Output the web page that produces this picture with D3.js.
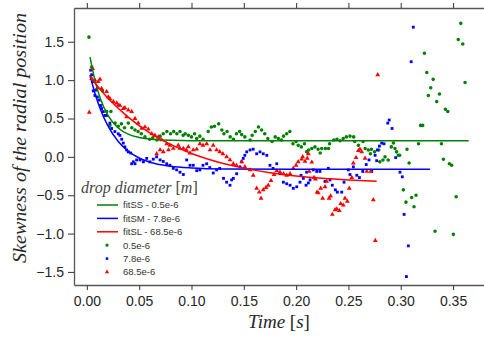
<!DOCTYPE html>
<html>
<head>
<meta charset="utf-8">
<script src="https://cdn.jsdelivr.net/npm/d3@7"></script>
<style>
body { margin: 0; background: #fff; }
svg { display: block; }
</style>
</head>
<body>
<svg width="484" height="340"></svg>
<script>
// tick values
const xTicks = [0.00, 0.05, 0.10, 0.15, 0.20, 0.25, 0.30, 0.35]
const yTicks = [-1.5, -1.0, -0.5, 0.0, 0.5, 1.0, 1.5]

// legend entries
const fitNames = ['fitSS - 0.5e-6', 'fitSM - 7.8e-6', 'fitSL - 68.5e-6']
const dotNames = ['0.5e-6', '7.8e-6', '68.5e-6']
const colors = ['#008000', '#0000ff', '#ff0000']

// fitted curves, [time, skewness]
const fitSS = [[0.003,1.30],[0.008,0.98],[0.013,0.755],[0.020,0.545],[0.030,0.377],[0.040,0.293],
  [0.050,0.252],[0.065,0.225],[0.080,0.215],[0.100,0.211],[0.200,0.21],[0.365,0.21]]
const fitSM = [[0.003,1.065],[0.008,0.816],[0.013,0.618],[0.020,0.406],[0.030,0.199],[0.040,0.068],
  [0.050,-0.015],[0.065,-0.087],[0.080,-0.123],[0.100,-0.145],[0.130,-0.157],[0.200,-0.16],[0.328,-0.16]]
const fitSL = [[0.003,1.04],[0.020,0.766],[0.040,0.511],[0.060,0.314],[0.080,0.162],[0.100,0.043],
  [0.125,-0.067],[0.150,-0.147],[0.175,-0.206],[0.200,-0.248],[0.225,-0.279],[0.250,-0.301],[0.277,-0.318]]

// measured skewness, [time, skewness]
const dataSS = [[0.002,1.56],[0.0046,1.17],[0.015,0.86],[0.019,0.59],[0.022,0.41],[0.023,0.59],[0.027,0.44],
  [0.030,0.40],[0.033,0.43],[0.036,0.38],[0.0396,0.44],[0.043,0.38],[0.046,0.35],[0.049,0.33],[0.052,0.30],
  [0.0555,0.26],[0.060,0.23],[0.063,0.25],[0.067,0.22],[0.070,0.27],[0.073,0.30],[0.0765,0.33],[0.080,0.30],
  [0.083,0.33],[0.086,0.30],[0.089,0.33],[0.092,0.28],[0.094,0.30],[0.097,0.28],[0.100,0.26],[0.103,0.30],
  [0.105,0.24],[0.108,0.27],[0.111,0.23],[0.116,0.33],[0.119,0.39],[0.122,0.40],[0.126,0.43],[0.129,0.35],
  [0.131,0.30],[0.134,0.33],[0.137,0.26],[0.140,0.23],[0.143,0.30],[0.146,0.33],[0.148,0.29],[0.151,0.26],
  [0.156,0.22],[0.158,0.28],[0.161,0.33],[0.164,0.39],[0.167,0.35],[0.170,0.30],[0.173,0.24],[0.177,0.20],
  [0.180,0.26],[0.183,0.24],[0.186,0.22],[0.188,0.27],[0.191,0.30],[0.194,0.33],[0.197,0.17],[0.200,0.20],
  [0.202,0.15],[0.205,0.13],[0.208,0.17],[0.210,0.065],[0.212,0.09],[0.215,0.11],[0.218,0.13],[0.221,0.10],
  [0.223,0.05],[0.2245,0.11],[0.228,0.11],[0.231,0.11],[0.232,0.17],[0.236,0.22],[0.239,0.23],[0.242,0.21],
  [0.245,0.24],[0.248,0.26],[0.2515,0.27],[0.255,0.26],[0.256,0.20],[0.2595,0.15],[0.264,0.20],[0.266,0.11],
  [0.269,0.09],[0.271,0.04],[0.272,0.10],[0.275,0.065],[0.279,0.09],[0.280,-0.065],[0.283,-0.04],[0.285,0.0],
  [0.288,-0.04],[0.291,0.13],[0.293,0.18],[0.2945,0.11],[0.296,0.065],[0.2977,0.02],[0.299,0.02],[0.3025,-0.43],
  [0.305,-0.59],[0.306,0.10],[0.308,-0.08],[0.3105,-0.53],[0.3127,-0.65],[0.3146,-0.50],[0.317,0.17],[0.319,0.41],
  [0.321,0.41],[0.3226,1.35],[0.3249,1.10],[0.3264,0.80],[0.3287,0.90],[0.331,1.01],[0.3328,-0.97],[0.3344,0.72],
  [0.337,0.82],[0.3389,0.17],[0.3408,-0.03],[0.3427,0.62],[0.345,0.59],[0.3465,-0.09],[0.3487,-0.11],[0.3503,-1.01],
  [0.353,-0.52],[0.355,1.53],[0.3574,1.74],[0.3593,1.47],[0.3615,0.97]]

const dataSM = [[0.0036,1.13],[0.0046,1.07],[0.0055,0.98],[0.0061,0.86],[0.0077,0.80],[0.0087,0.87],[0.010,0.78],
  [0.0119,0.74],[0.0132,0.67],[0.0141,0.63],[0.0157,0.59],[0.0173,0.54],[0.0189,0.54],[0.022,0.44],[0.0237,0.37],
  [0.0268,0.33],[0.030,0.30],[0.0316,0.28],[0.0333,0.23],[0.0348,0.18],[0.0364,0.13],[0.038,0.09],[0.0396,0.065],
  [0.0419,0.05],[0.0428,-0.09],[0.0444,-0.065],[0.046,-0.09],[0.0476,-0.04],[0.0508,-0.04],[0.054,-0.065],
  [0.0572,-0.02],[0.0603,-0.065],[0.0635,-0.03],[0.0667,0.0],[0.070,-0.04],[0.073,-0.06],[0.0763,-0.09],
  [0.0794,-0.11],[0.0826,-0.15],[0.0858,-0.17],[0.089,-0.20],[0.0922,-0.23],[0.0954,-0.04],[0.0986,-0.11],
  [0.1017,-0.11],[0.105,-0.18],[0.108,-0.17],[0.111,-0.11],[0.1145,-0.09],[0.1175,-0.14],[0.1208,-0.21],
  [0.124,-0.17],[0.127,-0.15],[0.1306,-0.28],[0.1336,-0.33],[0.1368,-0.37],[0.1384,-0.30],[0.140,-0.28],
  [0.1432,-0.22],[0.1464,-0.13],[0.148,-0.065],[0.1495,-0.02],[0.151,0.02],[0.1528,0.065],[0.156,0.09],
  [0.159,0.10],[0.1623,0.04],[0.1655,0.065],[0.1686,0.04],[0.172,0.02],[0.175,-0.11],[0.178,-0.15],
  [0.1815,-0.09],[0.1846,-0.22],[0.1878,-0.33],[0.191,-0.35],[0.1942,-0.37],[0.1973,-0.41],[0.2006,-0.39],
  [0.2037,-0.33],[0.2047,-0.24],[0.2069,-0.28],[0.2095,-0.37],[0.2101,-0.20],[0.2117,-0.34],[0.2133,-0.30],
  [0.2164,-0.17],[0.2197,-0.19],[0.2228,-0.19],[0.2276,-0.32],[0.2308,-0.15],[0.2324,-0.30],[0.2346,-0.37],
  [0.2375,-0.43],[0.2394,-0.46],[0.2436,-0.46],[0.2458,-0.33],[0.2499,-0.17],[0.2515,-0.23],[0.2547,-0.13],
  [0.258,-0.24],[0.2605,-0.27],[0.2637,-0.19],[0.267,-0.10],[0.2697,-0.04],[0.2723,-0.19],[0.2755,0.02],
  [0.277,-0.05],[0.2776,0.09],[0.2796,0.14],[0.2818,0.18],[0.284,0.17],[0.2876,0.44],[0.289,0.48],[0.2917,0.37],
  [0.2952,-0.01],[0.2993,-0.20],[0.3015,-0.26],[0.3032,-0.75],[0.3054,-1.56],[0.3073,-1.16],[0.310,1.24],[0.312,1.69]]

const dataSL = [[0.0023,0.58],[0.0046,1.02],[0.0055,1.15],[0.0077,1.00],[0.010,0.90],[0.0109,0.98],[0.0125,1.01],
  [0.0141,0.89],[0.0189,0.85],[0.0205,0.78],[0.022,0.76],[0.0253,0.72],[0.0285,0.70],[0.030,0.67],[0.0316,0.67],
  [0.0348,0.63],[0.0364,0.64],[0.038,0.52],[0.0396,0.61],[0.0428,0.59],[0.046,0.50],[0.0491,0.44],[0.0524,0.37],
  [0.0555,0.39],[0.0587,0.36],[0.062,0.30],[0.0651,0.28],[0.0667,0.04],[0.0683,0.26],[0.070,0.09],[0.0715,0.22],
  [0.073,0.065],[0.0763,0.17],[0.078,0.09],[0.0794,0.15],[0.0826,0.11],[0.0874,0.15],[0.089,0.11],[0.0922,0.11],
  [0.095,0.09],[0.097,0.13],[0.0986,0.05],[0.1017,0.09],[0.105,0.10],[0.108,0.17],[0.111,0.15],[0.1145,0.17],
  [0.1177,0.09],[0.1208,0.15],[0.124,0.09],[0.127,0.065],[0.130,0.04],[0.1336,0.0],[0.1368,-0.04],[0.140,-0.09],
  [0.143,-0.11],[0.148,-0.065],[0.151,-0.13],[0.156,-0.17],[0.159,-0.24],[0.1623,-0.41],[0.1648,-0.46],
  [0.1665,-0.54],[0.1686,-0.43],[0.1712,-0.40],[0.1734,-0.37],[0.176,-0.31],[0.1789,-0.23],[0.1815,-0.18],
  [0.1846,-0.20],[0.188,-0.22],[0.191,-0.24],[0.1942,-0.22],[0.1973,-0.15],[0.200,-0.11],[0.202,-0.065],
  [0.2053,-0.03],[0.2063,0.0],[0.2085,-0.06],[0.2107,-0.02],[0.2117,0.04],[0.2126,-0.19],[0.215,-0.07],
  [0.2171,-0.27],[0.2185,-0.29],[0.2200,-0.46],[0.2212,-0.47],[0.2235,-0.41],[0.2254,-0.54],[0.2276,-0.39],
  [0.2292,-0.32],[0.2315,-0.54],[0.233,-0.51],[0.2346,-0.75],[0.2372,-0.69],[0.2388,-0.68],[0.2413,-0.70],
  [0.2426,-0.61],[0.2451,-0.63],[0.2467,-0.54],[0.249,-0.58],[0.2508,-0.41],[0.2532,-0.27],[0.2547,-0.08],
  [0.2573,-0.01],[0.2595,0.08],[0.261,0.10],[0.2627,0.065],[0.2659,-0.02],[0.2675,-0.19],[0.2713,-0.19],
  [0.2738,-0.56],[0.2757,-1.09],[0.278,1.07]]

const svg = d3.select('svg')

const margin = { top: 8, right: -2, bottom: 55, left: 74 }
const width = 484, height = 340
const inner_width = width - margin.left - margin.right
const inner_height = height - margin.top - margin.bottom

const x_scale = d3.scaleLinear().domain([-0.0123, 0.3815]).range([0, inner_width])
const y_scale = d3.scaleLinear().domain([-1.67, 1.94]).range([inner_height, 0])

const g = svg.append('g').attr('transform', `translate(${margin.left},${margin.top})`)

const tickFont = '"Liberation Sans", Arial, sans-serif'
const texColor = '#262626'

// axes
const xAxis = g.append('g').attr('transform', `translate(0,${inner_height})`)
  .call(d3.axisBottom(x_scale).tickValues(xTicks).tickFormat(d3.format('.2f')).tickSize(5).tickPadding(6).tickSizeOuter(0))
const topAxis = g.append('g')
  .call(d3.axisTop(x_scale).tickValues(xTicks).tickFormat('').tickSize(5).tickSizeOuter(0))
const yAxis = g.append('g')
  .call(d3.axisLeft(y_scale).tickValues(yTicks).tickFormat(d3.format('.1f')).tickSize(6).tickPadding(4).tickSizeOuter(0))

;[xAxis, topAxis, yAxis].forEach(a => {
  a.select('.domain').attr('stroke', '#555').attr('stroke-width', 1.3)
  a.selectAll('.tick line').attr('stroke', '#444').attr('stroke-width', 1.1)
  a.selectAll('.tick text').attr('fill', texColor).style('font-family', tickFont).style('font-size', '14px')
})

// fits
const line = d3.line()
  .x(d => x_scale(d[0]))
  .y(d => y_scale(d[1]))
  .curve(d3.curveMonotoneX)

const series = [dataSS, dataSM, dataSL]
const fits = [fitSS, fitSM, fitSL]
const shapes = [d3.symbolCircle, d3.symbolSquare, d3.symbolTriangle]
const sizes = [10, 8, 10]

series.forEach((data, i) => {
  g.append('g').selectAll('path').data(data)
    .enter().append('path')
    .attr('transform', d => `translate(${x_scale(d[0])},${y_scale(d[1])})`)
    .attr('d', d3.symbol().type(shapes[i]).size(sizes[i]))
    .attr('fill', colors[i])
})

fits.forEach((data, i) => {
  g.append('path').datum(data)
    .attr('d', line)
    .attr('fill', 'none')
    .attr('stroke', colors[i])
    .attr('stroke-width', 1.5)
})

// axis titles
const serif = '"Liberation Serif", "Times New Roman", serif'

const xTitle = svg.append('text')
  .attr('x', 279).attr('y', 328)
  .attr('text-anchor', 'middle')
  .attr('fill', texColor)
  .style('font-family', serif).style('font-size', '19px').style('font-style', 'italic')
xTitle.append('tspan').text('Time ')
xTitle.append('tspan').style('font-style', 'normal').text('[')
xTitle.append('tspan').text('s')
xTitle.append('tspan').style('font-style', 'normal').text(']')

svg.append('text')
  .attr('transform', 'translate(26,138) rotate(-90)')
  .attr('text-anchor', 'middle')
  .attr('fill', texColor)
  .attr('textLength', 250)
  .attr('lengthAdjust', 'spacingAndGlyphs')
  .style('font-family', serif).style('font-size', '18px').style('font-style', 'italic')
  .text('Skewness of the radial position')

// legend
const legend = svg.append('g')

const lTitle = legend.append('text')
  .attr('x', 81).attr('y', 193)
  .attr('fill', '#444')
  .style('font-family', serif).style('font-size', '16px').style('font-style', 'italic')
lTitle.append('tspan').text('drop diameter ')
lTitle.append('tspan').style('font-style', 'normal').text('[')
lTitle.append('tspan').text('m')
lTitle.append('tspan').style('font-style', 'normal').text(']')

const rowY = d3.scaleLinear().domain([0, 5]).range([205, 272])

fitNames.forEach((name, i) => {
  legend.append('line')
    .attr('x1', 97).attr('x2', 118)
    .attr('y1', rowY(i)).attr('y2', rowY(i))
    .attr('stroke', colors[i]).attr('stroke-width', 1.5)
  legend.append('text')
    .attr('x', 123).attr('y', rowY(i)).attr('dy', '0.35em')
    .attr('fill', '#333')
    .style('font-family', tickFont).style('font-size', '9.5px')
    .text(name)
})

dotNames.forEach((name, i) => {
  legend.append('path')
    .attr('transform', `translate(107,${rowY(i + 3)})`)
    .attr('d', d3.symbol().type(shapes[i]).size(sizes[i] * 0.8))
    .attr('fill', colors[i])
  legend.append('text')
    .attr('x', 123).attr('y', rowY(i + 3)).attr('dy', '0.35em')
    .attr('fill', '#333')
    .style('font-family', tickFont).style('font-size', '9.5px')
    .text(name)
})
</script>
</body>
</html>
